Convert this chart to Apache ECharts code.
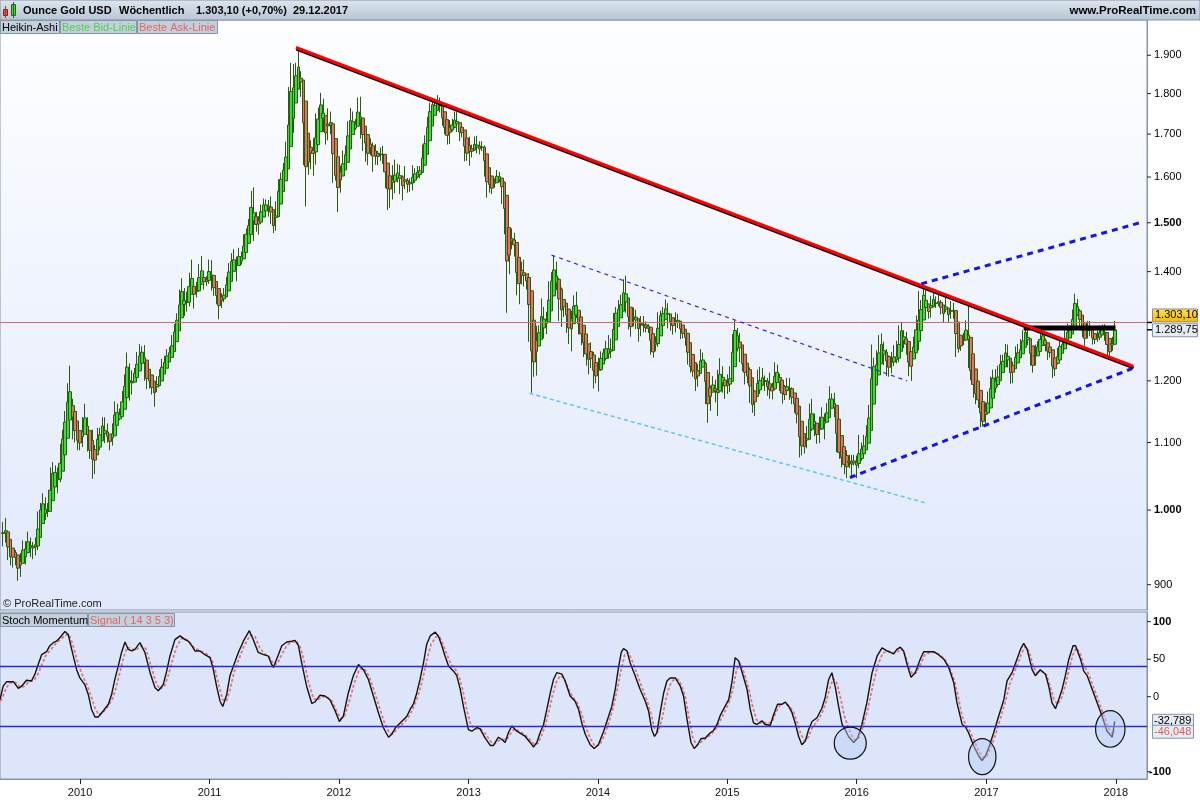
<!DOCTYPE html>
<html>
<head>
<meta charset="utf-8">
<script src="https://cdn.jsdelivr.net/npm/echarts@6/dist/echarts.min.js"></script>
<style>
html, body { margin: 0; padding: 0; background: #fff; }
#chart { width: 1200px; height: 800px; }
</style>
</head>
<body>
<div id="chart"></div>
<script>
// weekly gold prices [close, high, low], one row per Friday, first week ends 29.05.2009
const firstOpen = 958;
const gold2009 = [
  [979,983,950],[962,989,955],[938,965,932],[935,946,925],[940,946,922],
  [932,945,925],[912,936,905],[938,941,910],[951,958,933],[953,957,926],
  [957,970,945],[950,962,936],[953,956,933],[956,962,938],
  [995,998,945],[1006,1010,990],[1010,1024,995],[990,1018,986],
  [1003,1010,990],[1049,1062,1000],[1052,1070,1040],[1056,1065,1045],[1040,1062,1024],
  [1095,1098,1040],[1117,1120,1090],[1145,1150,1118],[1177,1196,1140],
  [1164,1226,1160],[1122,1170,1105],[1110,1142,1100],[1104,1112,1088]
];
const gold2010 = [
  [1096,1110,1088],[1138,1140,1093],[1131,1162,1124],[1091,1140,1086],[1081,1105,1075],
  [1052,1120,1045],[1092,1096,1058],[1119,1123,1086],[1119,1123,1088],
  [1133,1140,1112],[1102,1140,1099],[1107,1130,1100],[1104,1108,1088],
  [1125,1130,1095],[1161,1166,1122],[1136,1162,1132],[1152,1154,1135],[1180,1183,1145],
  [1209,1211,1164],[1228,1249,1210],[1177,1230,1167],[1214,1218,1181],
  [1219,1222,1198],[1227,1250,1218],[1257,1264,1224],[1256,1260,1225],
  [1208,1262,1200],[1210,1212,1186],[1189,1215,1187],[1189,1201,1177],[1181,1193,1157],
  [1205,1208,1181],[1215,1220,1191],[1228,1238,1213],[1236,1243,1220],
  [1248,1255,1233],[1246,1259,1241],[1275,1280,1242],[1296,1300,1272],
  [1318,1320,1295],[1346,1365,1314],[1368,1387,1344],[1325,1368,1315],[1358,1361,1323],
  [1394,1398,1333],[1367,1424,1362],[1353,1375,1329],[1363,1380,1350],
  [1413,1415,1362],[1385,1431,1377],[1379,1392,1365],[1380,1391,1372],[1421,1424,1376]
];
const gold2011 = [
  [1369,1423,1363],[1360,1393,1353],[1343,1373,1337],[1340,1346,1309],
  [1348,1358,1330],[1361,1368,1341],[1388,1390,1357],[1409,1417,1383],
  [1429,1437,1406],[1420,1445,1401],[1418,1430,1381],[1437,1448,1417],
  [1429,1440,1414],[1474,1476,1426],[1486,1488,1455],[1504,1508,1478],[1556,1569,1503],
  [1491,1577,1462],[1491,1523,1481],[1511,1514,1475],[1536,1539,1507],
  [1541,1552,1523],[1540,1550,1522],[1539,1549,1513],[1500,1557,1497],
  [1486,1510,1478],[1543,1546,1483],[1593,1595,1540],[1602,1610,1575],[1628,1632,1600],
  [1663,1682,1609],[1745,1817,1670],[1852,1880,1745],[1827,1877,1703],
  [1876,1880,1800],[1856,1921,1821],[1813,1858,1792],[1657,1812,1627],[1622,1680,1535],
  [1635,1675,1605],[1681,1685,1618],[1642,1690,1603],[1746,1750,1628],
  [1755,1765,1680],[1787,1802,1742],[1725,1787,1705],[1685,1727,1675],
  [1745,1763,1690],[1711,1755,1700],[1597,1720,1587],[1606,1620,1592],[1566,1610,1523]
];
const gold2012 = [
  [1616,1626,1565],[1639,1661,1604],[1665,1673,1628],[1727,1731,1660],
  [1725,1764,1715],[1725,1755,1715],[1724,1737,1710],[1776,1790,1725],
  [1710,1792,1689],[1711,1715,1660],[1656,1713,1635],[1662,1672,1627],[1669,1690,1650],
  [1631,1680,1612],[1660,1676,1628],[1642,1656,1627],[1663,1668,1637],
  [1644,1672,1630],[1579,1648,1575],[1591,1598,1527],[1572,1597,1532],
  [1623,1627,1550],[1591,1640,1564],[1626,1630,1588],[1572,1628,1562],[1598,1604,1548],
  [1580,1625,1573],[1592,1598,1565],[1583,1597,1567],[1618,1627,1570],
  [1604,1620,1587],[1620,1625,1597],[1616,1625,1597],[1670,1675,1613],[1692,1697,1650],
  [1740,1742,1690],[1771,1777,1731],[1773,1787,1757],[1773,1781,1753],
  [1780,1796,1768],[1757,1790,1753],[1724,1756,1720],[1711,1728,1700],
  [1676,1726,1675],[1731,1734,1683],[1714,1737,1706],[1751,1755,1716],[1712,1754,1705],
  [1701,1724,1683],[1696,1724,1692],[1657,1672,1636],[1657,1668,1637]
];
const gold2013 = [
  [1656,1694,1626],[1662,1675,1645],[1687,1694,1660],[1658,1696,1655],
  [1667,1683,1652],[1667,1683,1660],[1609,1673,1601],[1578,1616,1554],
  [1572,1619,1565],[1577,1589,1562],[1592,1597,1576],[1607,1616,1592],[1597,1612,1588],
  [1580,1585,1540],[1476,1590,1476],[1405,1482,1321],[1463,1469,1395],
  [1470,1488,1445],[1436,1479,1430],[1365,1438,1354],[1386,1418,1337],[1392,1420,1375],
  [1383,1424,1371],[1388,1392,1365],[1293,1397,1268],[1234,1300,1180],
  [1222,1267,1207],[1277,1297,1209],[1294,1298,1268],[1322,1348,1292],
  [1310,1332,1274],[1313,1323,1282],[1375,1381,1310],[1395,1399,1356],[1395,1433,1390],
  [1387,1420,1364],[1308,1388,1306],[1333,1369,1295],[1337,1346,1313],
  [1309,1336,1284],[1273,1326,1264],[1316,1325,1251],[1351,1354,1311],
  [1315,1361,1311],[1286,1322,1281],[1288,1293,1262],[1244,1292,1241],[1253,1263,1226],
  [1231,1252,1211],[1234,1267,1222],[1201,1250,1187],[1213,1224,1196]
];
const gold2014 = [
  [1238,1240,1182],[1248,1251,1217],[1254,1256,1235],[1264,1270,1235],[1240,1280,1238],
  [1263,1274,1239],[1319,1321,1259],[1324,1332,1306],[1326,1345,1315],
  [1338,1355,1330],[1379,1385,1333],[1335,1392,1321],[1294,1336,1290],
  [1303,1308,1277],[1318,1331,1296],[1294,1327,1291],[1300,1305,1268],
  [1302,1315,1278],[1290,1315,1285],[1293,1305,1285],[1293,1300,1284],[1250,1295,1245],
  [1252,1258,1240],[1274,1278,1251],[1315,1322,1259],[1316,1325,1306],
  [1320,1332,1310],[1337,1346,1310],[1310,1339,1292],[1303,1318,1288],
  [1295,1311,1281],[1310,1322,1285],[1306,1319,1293],[1280,1306,1273],[1287,1292,1274],
  [1268,1288,1261],[1230,1272,1228],[1216,1239,1214],[1218,1226,1207],
  [1192,1221,1183],[1222,1229,1190],[1238,1255,1222],[1231,1249,1226],[1171,1233,1161],
  [1169,1176,1131],[1185,1192,1150],[1198,1208,1181],[1168,1202,1164],
  [1192,1219,1142],[1223,1239,1190],[1196,1225,1180],[1195,1205,1170]
];
const gold2015 = [
  [1186,1211,1178],[1223,1225,1181],[1277,1282,1216],[1293,1307,1278],[1279,1291,1251],
  [1234,1284,1232],[1228,1240,1216],[1204,1232,1194],[1213,1219,1196],
  [1167,1223,1163],[1152,1176,1147],[1182,1184,1142],[1199,1219,1187],
  [1201,1224,1178],[1207,1222,1191],[1203,1209,1183],[1178,1205,1175],
  [1178,1214,1170],[1189,1197,1169],[1225,1232,1184],[1204,1228,1201],[1189,1212,1183],
  [1168,1199,1162],[1179,1193,1171],[1201,1205,1176],[1173,1205,1168],
  [1167,1189,1161],[1158,1175,1147],[1131,1162,1130],[1097,1130,1077],[1095,1106,1080],
  [1094,1103,1083],[1113,1126,1091],[1160,1162,1112],[1134,1170,1118],
  [1122,1146,1110],[1104,1126,1098],[1138,1141,1099],[1146,1156,1120],
  [1137,1146,1105],[1156,1163,1132],[1177,1191,1154],[1163,1179,1160],[1142,1180,1140],
  [1088,1142,1085],[1081,1095,1075],[1076,1087,1062],[1057,1081,1052],
  [1061,1088,1046],[1075,1081,1061],[1066,1081,1046],[1075,1081,1065]
];
const gold2016 = [
  [1061,1080,1046],[1098,1112,1062],[1089,1100,1072],[1097,1112,1080],[1118,1127,1096],
  [1158,1160,1118],[1239,1263,1155],[1227,1240,1191],[1221,1253,1209],
  [1271,1280,1225],[1259,1283,1240],[1255,1268,1227],[1220,1252,1208],
  [1222,1244,1207],[1243,1250,1213],[1234,1262,1225],[1232,1270,1230],[1291,1298,1232],
  [1289,1304,1268],[1273,1280,1257],[1252,1286,1245],[1213,1256,1208],
  [1243,1244,1200],[1275,1277,1240],[1298,1316,1270],[1317,1362,1253],
  [1340,1345,1306],[1366,1375,1335],[1327,1360,1319],[1322,1335,1310],[1351,1353,1312],
  [1335,1367,1331],[1336,1352,1330],[1341,1357,1333],[1321,1345,1318],
  [1326,1330,1302],[1328,1352,1322],[1310,1330,1303],[1337,1343,1310],[1316,1340,1310],
  [1257,1318,1241],[1252,1265,1249],[1266,1274,1252],[1275,1284,1262],
  [1304,1307,1270],[1225,1337,1222],[1208,1235,1201],[1183,1213,1172],
  [1177,1194,1161],[1160,1181,1155],[1133,1170,1124],[1133,1142,1125],[1151,1164,1130]
];
const gold2017 = [
  [1173,1182,1146],[1196,1207,1172],[1209,1219,1195],[1190,1220,1180],
  [1220,1226,1192],[1234,1245,1215],[1239,1245,1216],[1257,1264,1233],
  [1226,1263,1223],[1201,1235,1195],[1229,1233,1196],[1244,1260,1231],[1249,1264,1237],
  [1253,1273,1241],[1285,1289,1251],[1284,1295,1276],[1268,1289,1262],
  [1228,1269,1226],[1228,1236,1214],[1254,1263,1226],[1267,1269,1245],
  [1280,1283,1258],[1271,1296,1268],[1254,1274,1251],[1256,1260,1236],[1242,1257,1240],
  [1212,1242,1205],[1228,1234,1208],[1254,1257,1228],[1269,1271,1244],
  [1257,1274,1252],[1289,1292,1256],[1285,1301,1266],[1292,1298,1281],
  [1325,1327,1291],[1347,1357,1325],[1320,1339,1315],[1297,1328,1290],[1280,1302,1276],
  [1274,1282,1261],[1304,1306,1275],[1280,1306,1278],[1273,1284,1263],
  [1269,1283,1264],[1275,1288,1268],[1294,1297,1271],[1287,1299,1280],
  [1281,1300,1270],[1248,1278,1243],[1256,1261,1236],[1275,1277,1252],[1303.1,1306,1274]
];

// Stoch Momentum: [week index, value]
const smiLine = [
  [-1.3,-4],[0,14],[1.4,20],[4.1,20],[6.1,11],[7.4,14],[9.4,22],[11.4,21],[12.8,30],[14.1,43],[15.5,56],[17.5,60],[18.8,68],[20.2,72],[21.5,74],[22.9,79],[24.9,87],[26.2,83],[27.6,63],[29.6,36],[30.9,25],[32.9,16],[34.3,3],[35.6,-17],[37,-27],[38.3,-27],[40.3,-19],[42.4,-10],[43.7,3],[45,23],[46.4,41],[47.7,59],[49.1,73],[50.4,63],[51.8,61],[53.1,63],[55.1,72],[57.1,59],[59.2,32],[61.2,12],[62.5,8],[64.5,16],[65.9,34],[67.2,54],[69.2,76],[71.3,81],[73.3,76],[74.6,74],[76,68],[77.3,61],[79.3,61],[81.3,56],[83.4,52],[84.7,36],[86,14],[87.4,-6],[88.5,-13],[90.1,3],[91.4,28],[92.8,41],[94.8,59],[96.8,74],[99.2,88],[100.8,76],[102.8,59],[104.9,56],[106.9,54],[108.2,43],[108.9,39],[110.2,50],[112.3,68],[114.3,73],[116.3,74],[117.6,75],[119,68],[120.3,45],[122.3,14],[124.4,-9],[125.7,-7],[127.7,2],[129.7,1],[131.7,-4],[133.8,-19],[135.5,-33],[137.1,-26],[139.1,5],[141.1,28],[143.2,43],[145.2,36],[147.2,23],[149.2,1],[151.2,-21],[153.2,-41],[155.3,-54],[156.6,-50],[158.2,-41],[160.6,-33],
  [162.7,-26],[164,-17],[165.3,-10],[166.7,5],[168,23],[169.4,45],[170.7,70],[172.1,81],[174.1,86],[175.4,81],[176.8,68],[178.1,54],[179.5,41],[181.5,34],[182.8,28],[184.2,10],[185.5,-13],[187.5,-44],[188.9,-46],[190.9,-41],[192.2,-43],[194.2,-55],[196.3,-65],[197.6,-65],[199.6,-54],[201,-57],[202.3,-61],[203.6,-48],[205,-39],[207,-46],[209,-50],[210.4,-53],[212.4,-61],[213.7,-67],[215.1,-61],[216.4,-48],[217.8,-37],[219.1,-17],[220.5,5],[221.8,23],[223.1,32],[225.2,30],[226.5,21],[228.5,1],[230.5,-6],[231.9,-17],[233.2,-35],[234.6,-50],[236.6,-64],[238.2,-69],[239.9,-64],[242,-46],[244,-26],[245.3,-13],[246.7,10],[248,39],[249.1,59],[250,64],[251.4,61],[252.7,45],[254.7,28],[256.7,10],[258.8,-6],[260.1,-19],[261.4,-44],[262.5,-53],[263.5,-48],[264.8,-21],[266.2,5],[267.5,21],[268.8,25],[270.9,25],[272.9,14],[274.2,1],[275.6,-30],[277.2,-61],[278.5,-69],[279.9,-64],[281.2,-56],[283,-55],[285,-48],[286.3,-45],[287.7,-37],[289,-25],[290.3,-17],[292.4,-4],[293.7,19],[295,52],[296.4,48],[297.7,34],[299.8,10],[301.1,-17],[302.4,-35],[303.8,-37],[305.8,-32],[307.1,-37],[309.2,-38],[310.5,-24],[312.1,-10],[313.9,-10],
  [315.2,-7],[316.6,-13],[317.9,-21],[319.2,-35],[320.6,-53],[321.9,-64],[323.3,-59],[324.6,-44],[326,-33],[328,-28],[330,-15],[331.3,-1],[332.7,23],[334,32],[335.4,12],[336.7,-13],[338.1,-37],[339.4,-44],[340.7,-53],[342.8,-61],[344.4,-55],[346.1,-37],[348.1,-8],[350.2,32],[352.2,54],[354.2,65],[356.2,61],[358.9,57],[360.2,63],[361.6,66],[362.9,61],[364.3,43],[365.9,26],[367.6,32],[369.6,50],[371,60],[373,60],[375,60],[377,56],[379.1,50],[381.1,39],[383.1,19],[384.4,-8],[386.5,-37],[387.8,-40],[389.1,-48],[391.2,-66],[393.2,-79],[394.5,-85],[395.9,-79],[397.2,-68],[399.2,-48],[401.2,-26],[403.3,-4],[404.6,21],[406.6,32],[408.6,50],[410,63],[411.3,71],[412.7,63],[414.7,36],[416,28],[418,36],[420.1,30],[421.4,14],[422.7,-8],[424.1,-16],[425.4,-4],[426.8,10],[428.1,28],[429.5,50],[431.2,68],[432.2,68],[434.2,50],[435.5,34],[436.9,28],[438.9,10],[440.9,-8],[442.9,-26],[444.9,-46],[447,-54],[448,-32.789]
];
const signalLine = [
  [-1,-6],[1,10],[2.5,18],[5,19],[7,12],[8.5,14],[10.5,20],[12.5,22],[14,30],[15.5,42],[17,54],[19,62],[21,70],[23,76],[25,82],[26.5,83],[28,70],[30,46],[32,28],[34,14],[35.5,0],[37,-15],[38.5,-24],[40,-22],[42,-14],[44,-3],[45.5,12],[47,32],[48.5,52],[50,66],[51.5,64],[53.5,62],[55.5,68],[57.5,64],[59.5,42],[61.5,20],[63,10],[65,14],[66.5,28],[68,46],[70,67],[72,78],[74,76],[75.5,71],[77,65],[79.5,61],[82,57],[84,50],[85.5,35],[87,14],[88.5,-4],[90,-6],[91.5,10],[93,32],[95,50],[97,67],[99.5,82],[101.5,80],[103.5,64],[105.5,57],[107.5,52],[109,43],[110.5,44],[112.5,58],[114.5,69],[116.5,73],[118.5,73],[120,64],[121.5,44],[123,20],[125,-2],[126.5,-5],[128.5,0],[130.5,0],[132.5,-6],[134.5,-20],[136,-29],[137.5,-26],[139.5,-6],[141.5,18],[143.5,36],[145.5,38],[147.5,27],[149.5,8],[151.5,-13],[153.5,-33],[155.5,-48],[157,-50],[158.5,-44],[161,-36],
  [163,-29],[165,-17],[166.5,-5],[168,10],[169.5,30],[171,52],[172.5,70],[174.5,80],[176,79],[177.5,68],[179,55],[180.5,43],[182.5,35],[184,24],[185.5,5],[187,-20],[188.5,-38],[190.5,-43],[192.5,-43],[194.5,-50],[196.5,-60],[198,-63],[200,-58],[201.5,-57],[203,-57],[204.5,-49],[206,-43],[208,-46],[210,-50],[212,-56],[214,-64],[215.5,-62],[217,-52],[218.5,-38],[220,-18],[221.5,3],[223,20],[224.5,28],[226,25],[227.5,12],[229.5,0],[231.5,-9],[233,-22],[234.5,-38],[236.5,-55],[238.5,-66],[240.5,-64],[242.5,-50],[244.5,-30],[246,-13],[247.5,10],[249,35],[250.5,56],[252,59],[253.5,48],[255.5,30],[257.5,12],[259.5,-5],[261,-22],[262.5,-42],[264,-47],[265.5,-30],[267,-5],[268.5,14],[270,22],[272,23],[273.5,15],[275,-2],[276.5,-30],[278,-55],[279.5,-65],[281,-61],[283,-56],[285,-51],[287,-44],[289,-32],[291,-19],[292.5,-8],[294,8],[295.5,35],[297,45],[298.5,33],[300.5,10],[302,-12],[303.5,-30],[305,-35],[306.5,-34],[308,-36],[310,-33],[311.5,-20],[313,-12],
  [315,-8],[317,-13],[318.5,-20],[320,-34],[321.5,-50],[323,-59],[324.5,-54],[326,-42],[328,-33],[330,-22],[331.5,-9],[333,10],[334.5,24],[336,18],[337.5,-2],[339,-25],[340.5,-40],[342,-52],[343.5,-58],[345,-54],[346.5,-40],[348.5,-16],[350.5,15],[352.5,42],[354.5,58],[356.5,61],[358.5,58],[360.5,60],[362,64],[363.5,56],[365,40],[366.5,30],[368,32],[370,45],[371.5,56],[373.5,59],[375.5,59],[377.5,56],[379.5,50],[381.5,38],[383.5,20],[385,-2],[386.5,-26],[388,-38],[389.5,-45],[391.5,-60],[393.5,-74],[395,-81],[396.5,-79],[398,-68],[400,-50],[402,-28],[404,-6],[405.5,15],[407,28],[409,45],[410.5,58],[412,67],[413.5,60],[415,42],[416.5,32],[418.5,34],[420.5,29],[422,14],[423.5,-4],[425,-10],[426.5,-2],[428,14],[429.5,35],[431,55],[432.5,65],[434,58],[435.5,42],[437.5,30],[439.5,12],[441.5,-6],[443.5,-24],[445.5,-42],[447,-50],[448,-46.048]
];

// trend lines drawn on the chart: [date, price]
const trendMain = [['2011-09-02', 1921], ['2018-02-19', 1225]];
const channelTop = [['2013-08-23', 1433], ['2016-05-22', 1200]];
const channelBottom = [['2013-06-22', 1179], ['2016-07-14', 1010]];
const supportLine = [['2015-12-13', 1047], ['2018-02-16', 1221]];
const upperLine = [['2016-07-01', 1376], ['2018-03-10', 1500]];
const resistLine = [['2017-04-16', 1293], ['2017-12-31', 1293]];

const priceTicks = [900, 1000, 1100, 1200, 1400, 1500, 1600, 1700, 1800, 1900];
const boldTicks = [1000, 1500];
const smiTicks = [100, 50, 0, -100];
const smiLevels = [40, -40];
const lastPrice = 1303.1;
const lastHaClose = 1289.75;
const circles = [[341.4, -62, 16, 16], [394.6, -80, 13.7, 18], [446.2, -43, 14.7, 18.3]];

const FONT = 'Liberation Sans, Arial, sans-serif';
const WEEK = 7 * 864e5;
const start = Date.UTC(2009, 4, 29);
const weekTime = i => start + i * WEEK;
const xMin = Date.parse('2009-05-20');
const xMax = Date.parse('2018-03-30');

// Heikin-Ashi candles from the weekly rows
const weeks = [].concat(gold2009, gold2010, gold2011, gold2012, gold2013, gold2014, gold2015, gold2016, gold2017);
const candles = [];
let prevO = null, prevC = null, lastClose = firstOpen;
weeks.forEach((w, i) => {
  const o = lastClose, c = w[0];
  const h = Math.max(w[1], o, c), l = Math.min(w[2], o, c);
  const haC = (o + h + l + c) / 4;
  const haO = prevO === null ? (o + c) / 2 : (prevO + prevC) / 2;
  const haH = Math.max(h, haO, haC), haL = Math.min(l, haO, haC);
  candles.push([weekTime(i), haO, haC, haL, haH]);
  prevO = haO; prevC = haC; lastClose = c;
});

const toLine = arr => arr.map(p => [Date.parse(p[0]), p[1]]);
const toWeeks = arr => arr.map(p => [weekTime(p[0]), p[1]]);

function trend(data, color, width, type, extra) {
  return Object.assign({
    type: 'line', xAxisIndex: 0, yAxisIndex: 0, data: toLine(data),
    symbol: 'none', silent: true, z: 5, animation: false,
    lineStyle: { color, width, type }
  }, extra || {});
}

const chart = echarts.init(document.getElementById('chart'));
chart.setOption({
  animation: false,
  backgroundColor: '#ffffff',
  grid: [
    { left: 0, right: 53, top: 20, height: 590, show: true,
      backgroundColor: { type: 'linear', x: 0, y: 0, x2: 0, y2: 1,
        colorStops: [{ offset: 0, color: '#fdfeff' }, { offset: 1, color: '#e0e8fb' }] },
      borderColor: '#8494aa', borderWidth: 1 },
    { left: 0, right: 53, top: 612, height: 167, show: true,
      backgroundColor: '#dce5fa', borderColor: '#8494aa', borderWidth: 1 }
  ],
  xAxis: [
    { type: 'time', gridIndex: 0, min: xMin, max: xMax,
      axisLine: { show: false }, axisTick: { show: false }, axisLabel: { show: false }, splitLine: { show: false } },
    { type: 'time', gridIndex: 1, min: xMin, max: xMax, position: 'bottom',
      minInterval: 365 * 864e5, maxInterval: 366 * 864e5,
      axisLine: { onZero: false, lineStyle: { color: '#8494aa' } },
      axisTick: { show: true, length: 5, lineStyle: { color: '#222' } },
      axisLabel: { formatter: '{yyyy}', color: '#111', fontSize: 11, fontFamily: FONT,
        showMinLabel: false, showMaxLabel: false, margin: 8 },
      splitLine: { show: false } }
  ],
  yAxis: [
    { type: 'log', logBase: 10, gridIndex: 0, position: 'right', min: 868.4, max: 1997,
      axisLine: { show: true, lineStyle: { color: '#8494aa' } },
      axisTick: { show: false }, axisLabel: { show: false }, splitLine: { show: false } },
    { type: 'value', gridIndex: 1, position: 'right', min: -109.7, max: 112.9,
      axisLine: { show: true, lineStyle: { color: '#8494aa' } },
      axisTick: { show: false }, axisLabel: { show: false }, splitLine: { show: false } }
  ],
  series: [
    {
      type: 'candlestick', xAxisIndex: 0, yAxisIndex: 0, data: candles,
      encode: { x: 0, y: [1, 2, 3, 4] },
      barWidth: 3.2,
      itemStyle: { color: '#3ddc3a', color0: '#e8706c', borderColor: '#2a5c0c', borderColor0: '#2a5c0c', borderWidth: 1 },
      markLine: {
        silent: true, symbol: 'none', label: { show: false },
        lineStyle: { color: '#d46a6a', width: 1, type: 'solid' },
        data: [{ yAxis: lastPrice }]
      },
      z: 3
    },
    trend(channelBottom, '#5cc6f8', 1.5, [4, 3]),
    trend(channelTop, '#2b2be6', 1.2, [4, 4]),
    trend(supportLine, '#1414e6', 3, [6, 5]),
    trend(upperLine, '#1414e6', 3, [6, 5]),
    trend(resistLine, '#000000', 5, 'solid'),
    trend(trendMain, '#ff0000', 3, 'solid', {
      lineStyle: { color: '#ff0000', width: 3, shadowColor: '#000', shadowBlur: 0, shadowOffsetY: 1.6, shadowOffsetX: 0.4 }
    }),
    {
      type: 'line', xAxisIndex: 1, yAxisIndex: 1, data: toWeeks(signalLine),
      symbol: 'none', silent: true, z: 3,
      lineStyle: { color: '#e87878', width: 1.8, type: [3, 2] },
      markLine: {
        silent: true, symbol: 'none', label: { show: false },
        lineStyle: { color: '#2a2ad2', width: 1.3, type: 'solid' },
        data: smiLevels.map(v => ({ yAxis: v }))
      }
    },
    {
      type: 'line', xAxisIndex: 1, yAxisIndex: 1, data: toWeeks(smiLine),
      symbol: 'none', silent: true, z: 4,
      lineStyle: { color: '#111111', width: 1.4 }
    }
  ]
});

// overlay: header, legends, axis labels positioned through the chart's own scales
const g = [];
const txt = (x, y, text, opt) => g.push(Object.assign({
  type: 'text', z: 100, style: Object.assign({ x, y, text, font: '11px ' + FONT, fill: '#000', verticalAlign: 'middle' }, opt || {})
}));
const rect = (x, y, w, h, fill, stroke) => g.push({
  type: 'rect', z: 99, shape: { x, y, width: w, height: h },
  style: { fill, stroke: stroke || null, lineWidth: 1 }
});

// title bar
g.push({ type: 'rect', z: 98, shape: { x: 0, y: 0, width: 1200, height: 20 },
  style: { fill: { type: 'linear', x: 0, y: 0, x2: 0, y2: 1,
    colorStops: [{ offset: 0, color: '#dde6ee' }, { offset: 1, color: '#b7c5d3' }] }, stroke: '#8494aa', lineWidth: 1 } });
g.push({ type: 'line', z: 100, shape: { x1: 5.5, y1: 6, x2: 5.5, y2: 18 }, style: { stroke: '#b03030', lineWidth: 1 } });
rect(3.5, 9.5, 4, 6, '#e25050', '#8a2020');
g.push({ type: 'line', z: 100, shape: { x1: 13.5, y1: 2, x2: 13.5, y2: 18 }, style: { stroke: '#1f6a10', lineWidth: 1 } });
rect(11.5, 4.5, 4, 11, '#46d23c', '#1f6a10');
const bold11 = 'bold 11px ' + FONT;
txt(23, 11, 'Ounce Gold USD', { font: bold11 });
txt(119, 11, 'Wöchentlich', { font: bold11 });
txt(196, 11, '1.303,10 (+0,70%)', { font: bold11 });
txt(293, 11, '29.12.2017', { font: bold11 });
txt(1196, 11, 'www.ProRealTime.com', { font: 'bold 11.5px ' + FONT, align: 'right' });

// legend boxes
const legendBox = (x, y, w, text, color) => {
  rect(x + 0.5, y + 0.5, w, 13, '#c3cfdb', '#8494aa');
  txt(x + 2, y + 7.5, text, { fill: color, font: '11px ' + FONT });
};
legendBox(0, 20, 59, 'Heikin-Ashi', '#000');
legendBox(60, 20, 76, 'Beste Bid-Linie', '#4fd04f');
legendBox(137, 20, 80, 'Beste Ask-Linie', '#e46464');
legendBox(0, 613, 87, 'Stoch Momentum', '#000');
legendBox(88, 613, 86, 'Signal ( 14 3 5 3)', '#e46464');

txt(3, 604, '© ProRealTime.com', { fill: '#222' });

// price axis labels (log scale)
const fmtThousand = v => String(v).replace(/\B(?=(\d{3})+(?!\d))/g, '.');
priceTicks.forEach(v => {
  const y = chart.convertToPixel({ yAxisIndex: 0 }, v);
  g.push({ type: 'line', z: 100, shape: { x1: 1147, y1: y, x2: 1151, y2: y }, style: { stroke: '#222', lineWidth: 1 } });
  txt(1154, y, fmtThousand(v), { font: (boldTicks.indexOf(v) >= 0 ? 'bold ' : '') + '11px ' + FONT });
});
// last price boxes
const yLast = chart.convertToPixel({ yAxisIndex: 0 }, lastPrice);
const yHa = chart.convertToPixel({ yAxisIndex: 0 }, lastHaClose);
[yLast, yHa].forEach(y => g.push({ type: 'line', z: 100, shape: { x1: 1147, y1: y, x2: 1152, y2: y }, style: { stroke: '#000', lineWidth: 1.5 } }));
g.push({ type: 'rect', z: 99, shape: { x: 1152.5, y: yLast - 13.5, width: 45, height: 13 },
  style: { fill: { type: 'linear', x: 0, y: 0, x2: 0, y2: 1,
    colorStops: [{ offset: 0, color: '#ffe45a' }, { offset: 1, color: '#f2b500' }] }, stroke: '#8a8a8a', lineWidth: 1 } });
txt(1155, yLast - 7, '1.303,10');
rect(1152.5, yHa - 6, 45, 13, '#e6ecf4', '#8494aa');
txt(1155, yHa + 0.5, '1.289,75');

// indicator axis labels
smiTicks.forEach(v => {
  const y = chart.convertToPixel({ yAxisIndex: 1 }, v);
  g.push({ type: 'line', z: 100, shape: { x1: 1147, y1: y, x2: 1151, y2: y }, style: { stroke: '#222', lineWidth: 1 } });
  txt(v < 0 ? 1149 : 1153, y, String(v), { font: (Math.abs(v) === 100 ? 'bold ' : '') + '11px ' + FONT });
});
const ySmi = chart.convertToPixel({ yAxisIndex: 1 }, -32.789);
const ySig = chart.convertToPixel({ yAxisIndex: 1 }, -46.048);
rect(1152.5, ySmi - 7, 41, 13, '#e6ecf4', '#8494aa');
txt(1154, ySmi - 0.5, '-32,789');
rect(1152.5, ySig - 6, 41, 13, '#e6ecf4', '#8494aa');
txt(1154, ySig + 0.5, '-46,048', { fill: '#e05a5a' });

// hand drawn circles on the indicator
circles.forEach(c => {
  const p = chart.convertToPixel({ xAxisIndex: 1, yAxisIndex: 1 }, [weekTime(c[0]), c[1]]);
  g.push({ type: 'ellipse', z: 90, shape: { cx: p[0], cy: p[1], rx: c[2], ry: c[3] },
    style: { fill: 'rgba(185,205,250,0.45)', stroke: '#111', lineWidth: 1.2 } });
});

chart.setOption({ graphic: g });
</script>
</body>
</html>
